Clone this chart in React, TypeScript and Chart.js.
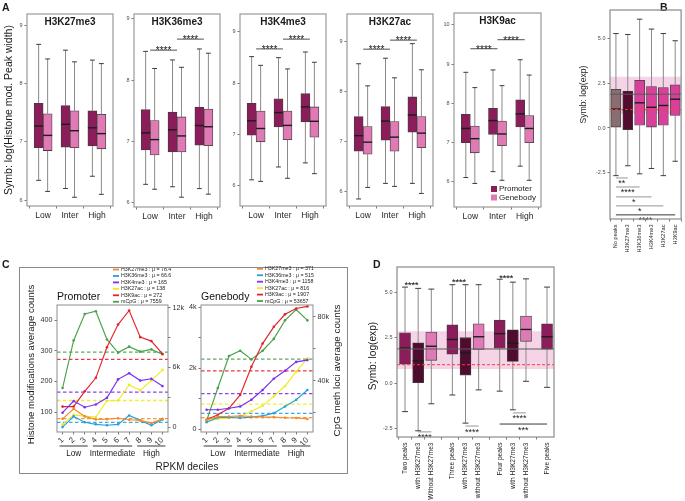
import React, { useEffect, useRef } from 'react';
import { Chart, registerables } from 'chart.js';

Chart.register(...registerables);

const W = 685;
const H = 501;
const FONT = '"Liberation Sans", Arial, Helvetica, sans-serif';
Chart.defaults.font.family = FONT;

// ================= Panel A data =================
const aGroups = ['Low', 'Inter', 'High'];
const aSeries = ['Promoter', 'Genebody'];
const aMarks = ['H3K27me3', 'H3K36me3', 'H3K4me3', 'H3K27ac', 'H3K9ac'];
// rows: Low, Inter, High ; each [lower whisker, Q1, median, Q3, upper whisker]
const h3k27me3Promoter = [[6.34, 6.90, 7.27, 7.66, 8.67], [6.20, 6.91, 7.30, 7.62, 8.57], [6.41, 6.93, 7.24, 7.53, 8.40]];
const h3k27me3Genebody = [[6.15, 6.85, 7.11, 7.48, 8.42], [6.05, 6.90, 7.19, 7.53, 8.37], [6.10, 6.88, 7.14, 7.47, 8.34]];
const h3k36me3Promoter = [[6.30, 6.86, 7.14, 7.52, 8.47], [6.26, 6.83, 7.19, 7.48, 8.33], [6.23, 6.94, 7.26, 7.56, 8.51]];
const h3k36me3Genebody = [[6.22, 6.78, 7.03, 7.34, 8.19], [6.09, 6.83, 7.09, 7.40, 8.21], [6.14, 6.93, 7.24, 7.53, 8.44]];
const h3k4me3Promoter = [[6.12, 6.99, 7.27, 7.61, 8.52], [6.37, 7.15, 7.43, 7.70, 8.50], [6.45, 7.25, 7.54, 7.80, 8.61]];
const h3k4me3Genebody = [[6.09, 6.86, 7.12, 7.46, 8.35], [6.15, 6.90, 7.18, 7.46, 8.28], [6.24, 6.95, 7.26, 7.54, 8.41]];
const h3k27acPromoter = [[5.86, 6.81, 7.12, 7.50, 8.55], [6.17, 7.03, 7.41, 7.70, 8.66], [6.17, 7.19, 7.53, 7.89, 8.95]];
const h3k27acGenebody = [[6.09, 6.75, 6.99, 7.30, 8.11], [6.11, 6.81, 7.09, 7.40, 8.27], [5.97, 6.88, 7.17, 7.50, 8.43]];
const h3k9acPromoter = [[6.11, 7.00, 7.36, 7.72, 8.79], [6.26, 7.21, 7.56, 7.87, 8.85], [6.40, 7.40, 7.73, 8.09, 9.11]];
const h3k9acGenebody = [[5.96, 6.74, 7.10, 7.42, 8.40], [6.04, 6.92, 7.22, 7.55, 8.45], [6.04, 7.00, 7.36, 7.69, 8.72]];
const aTicks = [6, 7, 8, 9];
const aTicksK9 = [6, 7, 8, 9, 10];
// [from group, to group, y value, label]
const sigH3K27me3: any[] = [];
const sigH3K36me3 = [[0, 1, 8.49, '****'], [1, 2, 8.67, '****']];
const sigH3K4me3 = [[0, 1, 8.67, '****'], [1, 2, 8.86, '****']];
const sigH3K27ac = [[0, 1, 8.84, '****'], [1, 2, 9.02, '****']];
const sigH3K9ac = [[0, 1, 9.39, '****'], [1, 2, 9.62, '****']];

// ================= Panel B data =================
const bCategories = ['No peaks', 'H3K27me3', 'H3K36me3', 'H3K4me3', 'H3K27ac', 'H3K9ac'];
const bStats = [
  [-2.65, 0.05, 1.05, 2.15, 5.25],
  [-2.10, -0.10, 1.00, 2.05, 5.20],
  [-2.55, 0.15, 1.40, 2.65, 6.05],
  [-2.25, 0.05, 1.15, 2.30, 5.50],
  [-2.65, 0.15, 1.25, 2.25, 5.25],
  [-1.85, 0.70, 1.60, 2.40, 4.85],
];
const bTicks = [-2.5, 0, 2.5, 5];
// [from, to, y value, label] (label under the line)
const sigB = [[0, 1, -2.78, '**'], [0, 2, -3.28, '****'], [0, 3, -3.83, '*'], [0, 4, -4.33, '*'], [0, 5, -4.83, '****']];
// reference band / lines of log(exp)
const refBand = [0.78, 2.85];
const refMedian = 1.88;
const refThreshold = 1.02;

// ================= Panel C data =================
const deciles = ['1', '2', '3', '4', '5', '6', '7', '8', '9', '10'];
const cSeries = ['H3K27me3', 'H3K36me3', 'H3K4me3', 'H3K27ac', 'H3K9ac', 'mCpG'];
const promH3K27me3 = [78, 111, 86, 76, 77, 80, 75, 73, 64, 78];
const promH3K36me3 = [51, 86, 67, 60, 57, 60, 89, 73, 57, 76];
const promH3K4me3 = [98, 136, 116, 125, 147, 207, 227, 203, 209, 185];
const promH3K27ac = [59, 91, 87, 84, 137, 138, 189, 171, 203, 238];
const promH3K9ac = [118, 118, 168, 212, 312, 386, 432, 345, 332, 290];
const promMCpG = [3930, 8730, 11400, 11670, 8830, 7500, 8100, 7600, 7830, 7330];
const promMeans = [78.4, 66.6, 165, 138, 272, 7559];
const geneH3K27me3 = [300, 410, 410, 430, 410, 390, 390, 370, 360, 330];
const geneH3K36me3 = [220, 380, 380, 360, 390, 430, 520, 740, 960, 1280];
const geneH3K4me3 = [630, 630, 680, 740, 960, 1280, 1650, 1910, 2200, 2260];
const geneH3K27ac = [250, 330, 360, 410, 580, 760, 1070, 1410, 1880, 2320];
const geneH3K9ac = [300, 470, 680, 1120, 2040, 2800, 3350, 3760, 3950, 4020];
const geneMCpG = [15200, 35600, 55600, 58900, 53500, 58900, 66300, 77900, 84600, 77900];
const geneMeans = [371, 515, 1158, 816, 1907, 53657];
const promLeftTicks = [100, 200, 300, 400];
const promLeftLabels = ['100', '200', '300', '400'];
const promRightTicks = [0, 3000, 6000, 9000, 12000];
const promRightLabels = ['0', '', '6k', '', '12k'];
const geneLeftTicks = [0, 1000, 2000, 3000, 4000];
const geneLeftLabels = ['0', '', '2k', '', '4k'];
const geneRightTicks = [20000, 40000, 60000, 80000];
const geneRightLabels = ['', '40k', '', '80k'];
const cGroupLabels = ['Low', 'Intermediate', 'High'];
const cGroupFirst = [0, 3, 7];
const cGroupLast = [2, 6, 9];

// ================= Panel D data =================
const dCategories = ['Two peaks', 'with H3K27me3', 'Without H3K27me3', 'Three peaks', 'with H3K27me3', 'without H3K27me3', 'Four peaks', 'with H3K27me3', 'without H3K27me3', 'Five peaks'];
const dGroup = [0, 0, 0, 1, 1, 1, 2, 2, 2, 3];
const dKind = ['all', 'with', 'without', 'all', 'with', 'without', 'all', 'with', 'without', 'all'];
const dStats = [
  [-1.55, 1.05, 1.93, 2.77, 5.27],
  [-2.60, 0.03, 1.24, 2.22, 5.20],
  [-1.12, 1.26, 2.03, 2.81, 5.16],
  [-0.64, 1.60, 2.40, 3.20, 5.40],
  [-2.18, 0.44, 1.67, 2.50, 5.40],
  [-0.36, 1.85, 2.55, 3.26, 5.40],
  [-0.43, 1.92, 2.72, 3.46, 5.70],
  [-1.45, 1.20, 2.19, 2.93, 5.54],
  [0.11, 2.30, 2.95, 3.68, 5.72],
  [-0.22, 1.87, 2.55, 3.26, 5.27],
];
const dTicks = [-2.5, 0, 2.5, 5];
// [from, to, y value, label, side]
const sigD = [
  [0, 1, 5.45, '****', 'above'],
  [3, 4, 5.60, '****', 'above'],
  [6, 7, 5.82, '****', 'above'],
  [1, 2, -2.66, '****', 'below'],
  [4, 5, -2.34, '****', 'below'],
  [7, 8, -1.62, '****', 'below'],
  [6, 9, -2.23, '***', 'below'],
];

// ================= styles / layout =================
const PROM_COL = '#8c1d5b';
const GENE_COL = '#df7ab5';
const NOPEAK_COL = '#8b6d71';
const K27_COL = '#520c30';
const OTHER_COL = '#d8409a';
const D_COL: Record<string, string> = { all: '#8c1d5b', with: '#4f0c2f', without: '#e07ab6' };
const cColors = ['#f68a2a', '#22a3dc', '#7b30f2', '#f0ea1e', '#e3232b', '#4aa24a'];

const aFrames = [
  { l: 27, t: 14, r: 113, b: 206, y: [5.9, 9.19] },
  { l: 134, t: 14, r: 220, b: 207, y: [5.93, 9.08] },
  { l: 240, t: 14, r: 326, b: 206, y: [5.61, 9.35] },
  { l: 347, t: 14, r: 433, b: 206, y: [5.72, 9.54] },
  { l: 454, t: 13, r: 541, b: 207, y: [5.36, 10.3] },
];
const bFrame = { l: 610, t: 10, r: 684, b: 219, y: [-5.06, 6.56] };
const cProm = { l: 57, t: 305, r: 168, b: 432, yl: [35, 450], yr: [-500, 12300] };
const cGene = { l: 201, t: 305, r: 313, b: 432, yl: [-98, 4066], yr: [8100, 87500] };
const dFrame = { l: 397, t: 267, r: 554, b: 437, y: [-2.94, 6.37] };
const D_GAP = 0.6;

// ================= helpers =================
function seg(ctx: any, x1: number, y1: number, x2: number, y2: number) {
  ctx.beginPath();
  ctx.moveTo(x1, y1);
  ctx.lineTo(x2, y2);
  ctx.stroke();
}
function txt(ctx: any, s: string, x: number, y: number, size: number, o: any = {}) {
  ctx.save();
  ctx.font = `${o.bold ? 'bold ' : ''}${size}px ${FONT}`;
  ctx.fillStyle = o.color || '#1a1a1a';
  ctx.textAlign = o.align || 'center';
  ctx.textBaseline = o.baseline || 'middle';
  ctx.translate(x, y);
  if (o.rotate) ctx.rotate(o.rotate);
  ctx.fillText(s, 0, 0);
  ctx.restore();
}
function frameRect(ctx: any, ca: any, color = '#9a9a9a', lw = 1.2) {
  ctx.save();
  ctx.strokeStyle = color;
  ctx.lineWidth = lw;
  ctx.strokeRect(ca.left, ca.top, ca.right - ca.left, ca.bottom - ca.top);
  ctx.restore();
}
function refLines(ctx: any, chart: any) {
  const ca = chart.chartArea;
  const ys = chart.scales.y;
  ctx.save();
  ctx.strokeStyle = '#5a5a5a';
  ctx.lineWidth = 1;
  const ym = ys.getPixelForValue(refMedian);
  seg(ctx, ca.left, ym, ca.right, ym);
  ctx.strokeStyle = '#ff3b3b';
  ctx.setLineDash([3, 2]);
  const yt = ys.getPixelForValue(refThreshold);
  seg(ctx, ca.left, yt, ca.right, yt);
  ctx.restore();
}
function refBandDraw(ctx: any, chart: any) {
  const ca = chart.chartArea;
  const ys = chart.scales.y;
  const y1 = ys.getPixelForValue(refBand[1]);
  const y0 = ys.getPixelForValue(refBand[0]);
  ctx.save();
  ctx.fillStyle = 'rgba(232, 160, 205, 0.45)';
  ctx.fillRect(ca.left, y1, ca.right - ca.left, y0 - y1);
  ctx.restore();
}

function boxConfig(spec: any) {
  const f = spec.frame;
  const yW = spec.yAxisW;
  const xH = spec.xAxisH;
  const plugin = {
    id: 'boxparts',
    beforeDatasetsDraw(chart: any) {
      const ctx = chart.ctx;
      const ys = chart.scales.y;
      if (spec.under) spec.under(ctx, chart);
      ctx.save();
      spec.series.forEach((s: any, di: number) => {
        const meta = chart.getDatasetMeta(di);
        meta.data.forEach((el: any, i: number) => {
          const st = s.stats[i];
          const x = el.x;
          const half = el.width * 0.27;
          const pLo = ys.getPixelForValue(st[0]);
          const pQ1 = ys.getPixelForValue(st[1]);
          const pQ3 = ys.getPixelForValue(st[3]);
          const pHi = ys.getPixelForValue(st[4]);
          ctx.lineWidth = 1;
          ctx.strokeStyle = '#8a8a8a';
          seg(ctx, x, pQ3, x, pHi);
          seg(ctx, x, pQ1, x, pLo);
          ctx.strokeStyle = '#3a3a3a';
          seg(ctx, x - half, pHi, x + half, pHi);
          seg(ctx, x - half, pLo, x + half, pLo);
        });
      });
      ctx.restore();
    },
    afterDatasetsDraw(chart: any) {
      const ctx = chart.ctx;
      const ys = chart.scales.y;
      ctx.save();
      spec.series.forEach((s: any, di: number) => {
        const meta = chart.getDatasetMeta(di);
        meta.data.forEach((el: any, i: number) => {
          const pm = ys.getPixelForValue(s.stats[i][2]);
          ctx.strokeStyle = '#1c1c1c';
          ctx.lineWidth = 1.4;
          seg(ctx, el.x - el.width / 2, pm, el.x + el.width / 2, pm);
        });
      });
      ctx.restore();
      if (spec.over) spec.over(ctx, chart);
      frameRect(ctx, chart.chartArea, spec.frameColor || '#9a9a9a', 1.2);
    },
  };
  return {
    type: 'bar',
    data: {
      datasets: spec.series.map((s: any) => ({
        label: s.label,
        data: s.stats.map((st: number[], i: number) => ({ x: s.xs[i], y: [st[1], st[3]] })),
        backgroundColor: s.colors,
        borderColor: '#3f3f3f',
        borderWidth: 0.8,
        borderSkipped: false,
        barThickness: spec.barThickness,
      })),
    },
    options: {
      responsive: false,
      animation: false,
      events: [],
      layout: { autoPadding: false, padding: { left: f.l - yW, top: f.t, right: W - f.r, bottom: H - f.b - xH } },
      plugins: { legend: { display: false }, tooltip: { enabled: false } },
      scales: {
        x: {
          type: 'linear',
          min: spec.xRange[0],
          max: spec.xRange[1],
          offset: false,
          afterFit: (s: any) => { s.height = xH; },
          afterBuildTicks: (s: any) => { s.ticks = spec.xTickValues.map((v: number) => ({ value: v })); },
          ticks: {
            autoSkip: false,
            minRotation: spec.xRotate,
            maxRotation: spec.xRotate,
            padding: spec.xPad ?? 2,
            color: '#1f1f1f',
            font: { family: FONT, size: spec.xFontSize },
            callback: (_v: any, i: number) => spec.xTickLabels[i],
          },
          grid: { drawOnChartArea: false, drawTicks: true, tickLength: 2.5, color: '#555', lineWidth: 0.8 },
          border: { display: false },
        },
        y: {
          type: 'linear',
          min: spec.yRange[0],
          max: spec.yRange[1],
          afterFit: (s: any) => { s.width = yW; },
          afterBuildTicks: (s: any) => { s.ticks = spec.yTicks.map((v: number) => ({ value: v })); },
          ticks: {
            autoSkip: false,
            padding: 2,
            color: '#4d4d4d',
            font: { family: FONT, size: spec.yFontSize },
            callback: (v: any) => spec.yFmt(v),
          },
          grid: { drawOnChartArea: false, drawTicks: true, tickLength: 2.5, color: '#555', lineWidth: 0.8 },
          border: { display: false },
        },
      },
    },
    plugins: [plugin],
  };
}

function lineConfig(spec: any) {
  const f = spec.frame;
  const yW = 22;
  const xH = 14;
  const plugin = {
    id: 'lineparts',
    beforeDatasetsDraw(chart: any) {
      const ctx = chart.ctx;
      const ca = chart.chartArea;
      ctx.save();
      ctx.lineWidth = 1.3;
      ctx.setLineDash([3.5, 2.5]);
      spec.means.forEach((m: number, k: number) => {
        const sc = k === 5 ? chart.scales.y2 : chart.scales.y;
        const y = sc.getPixelForValue(m);
        ctx.strokeStyle = cColors[k];
        ctx.globalAlpha = 0.9;
        seg(ctx, ca.left, y, ca.right, y);
      });
      ctx.restore();
    },
    afterDatasetsDraw(chart: any) {
      const ctx = chart.ctx;
      const ca = chart.chartArea;
      const xs = chart.scales.x;
      frameRect(ctx, ca, '#8d8d8d', 1);
      txt(ctx, spec.title, ca.left, ca.top - 8, 10.5, { align: 'left', color: '#111' });
      spec.means.forEach((m: number, k: number) => {
        const y = spec.legendY + k * 6.45;
        ctx.save();
        ctx.strokeStyle = cColors[k];
        ctx.lineWidth = 1.8;
        seg(ctx, spec.legendX, y, spec.legendX + 6, y);
        ctx.restore();
        txt(ctx, `${cSeries[k]} : \u03bc = ${m}`, spec.legendX + 8, y, 5.3, { align: 'left', color: '#222' });
      });
      cGroupLabels.forEach((g, k) => {
        const x1 = xs.getPixelForValue(cGroupFirst[k]) - 3;
        const x2 = xs.getPixelForValue(cGroupLast[k]) + 3;
        const y = ca.bottom + 14;
        ctx.save();
        ctx.strokeStyle = '#9b9b9b';
        ctx.lineWidth = 2;
        seg(ctx, x1, y, x2, y);
        ctx.restore();
        txt(ctx, g, (x1 + x2) / 2, ca.bottom + 22, 8.2, { color: '#1a1a1a' });
      });
      if (spec.over) spec.over(ctx, chart);
    },
  };
  const axisCommon = {
    grid: { drawOnChartArea: false, drawTicks: true, tickLength: 2.5, color: '#555', lineWidth: 0.8 },
    border: { display: false },
  };
  return {
    type: 'line',
    data: {
      labels: deciles,
      datasets: spec.values.map((vals: number[], k: number) => ({
        label: cSeries[k],
        data: vals,
        yAxisID: k === 5 ? 'y2' : 'y',
        borderColor: cColors[k],
        backgroundColor: cColors[k],
        borderWidth: 1.15,
        pointRadius: 1.3,
        pointBorderWidth: 0,
        tension: 0,
      })),
    },
    options: {
      responsive: false,
      animation: false,
      events: [],
      layout: { autoPadding: false, padding: { left: f.l - yW, top: f.t, right: W - f.r - yW, bottom: H - f.b - xH } },
      plugins: { legend: { display: false }, tooltip: { enabled: false } },
      scales: {
        x: {
          type: 'category',
          offset: true,
          afterFit: (s: any) => { s.height = xH; },
          ticks: { autoSkip: false, minRotation: 45, maxRotation: 45, padding: 1, color: '#333', font: { family: FONT, size: 8 } },
          ...axisCommon,
        },
        y: {
          type: 'linear',
          position: 'left',
          min: spec.yl[0],
          max: spec.yl[1],
          afterFit: (s: any) => { s.width = yW; },
          afterBuildTicks: (s: any) => { s.ticks = spec.leftTicks.map((v: number) => ({ value: v })); },
          ticks: { autoSkip: false, padding: 2, color: '#333', font: { family: FONT, size: 7.2 }, callback: (_v: any, i: number) => spec.leftLabels[i] },
          ...axisCommon,
        },
        y2: {
          type: 'linear',
          position: 'right',
          min: spec.yr[0],
          max: spec.yr[1],
          afterFit: (s: any) => { s.width = yW; },
          afterBuildTicks: (s: any) => { s.ticks = spec.rightTicks.map((v: number) => ({ value: v })); },
          ticks: { autoSkip: false, padding: 2, color: '#333', font: { family: FONT, size: 7.2 }, callback: (_v: any, i: number) => spec.rightLabels[i] },
          ...axisCommon,
        },
      },
    },
    plugins: [plugin],
  };
}

function buildConfigs() {
  const aSpecs = [
    { p: h3k27me3Promoter, g: h3k27me3Genebody, ticks: aTicks, sig: sigH3K27me3 },
    { p: h3k36me3Promoter, g: h3k36me3Genebody, ticks: aTicks, sig: sigH3K36me3 },
    { p: h3k4me3Promoter, g: h3k4me3Genebody, ticks: aTicks, sig: sigH3K4me3 },
    { p: h3k27acPromoter, g: h3k27acGenebody, ticks: aTicks, sig: sigH3K27ac },
    { p: h3k9acPromoter, g: h3k9acGenebody, ticks: aTicksK9, sig: sigH3K9ac },
  ];
  const configs: any[] = [];
  const groupXs = aGroups.map((_g, i) => i + 1);
  aSpecs.forEach((a, k) => {
    const f = aFrames[k];
    configs.push(boxConfig({
      frame: f,
      yAxisW: 14,
      xAxisH: 20,
      xRange: [0.4, 3.6],
      yRange: f.y,
      yTicks: a.ticks,
      yFmt: (v: number) => String(v),
      xTickValues: groupXs,
      xTickLabels: aGroups,
      xRotate: 0,
      xFontSize: 8.5,
      yFontSize: 5.5,
      barThickness: 9,
      series: [
        { label: aSeries[0], stats: a.p, xs: groupXs, colors: PROM_COL },
        { label: aSeries[1], stats: a.g, xs: groupXs, colors: GENE_COL },
      ],
      over: (ctx: any, chart: any) => {
        const ca = chart.chartArea;
        const xs = chart.scales.x;
        const ys = chart.scales.y;
        txt(ctx, aMarks[k], (ca.left + ca.right) / 2, ca.top + 11, 10, { bold: true, baseline: 'alphabetic' });
        a.sig.forEach((sg: any) => {
          const x1 = xs.getPixelForValue(groupXs[sg[0]]);
          const x2 = xs.getPixelForValue(groupXs[sg[1]]);
          const y = ys.getPixelForValue(sg[2]);
          ctx.save();
          ctx.strokeStyle = '#222';
          ctx.lineWidth = 0.8;
          seg(ctx, x1, y, x2, y);
          ctx.restore();
          txt(ctx, sg[3], (x1 + x2) / 2, y + 4, 10, { baseline: 'alphabetic' });
        });
        if (k === 0) {
          txt(ctx, 'A', 2, 8, 10.5, { bold: true, align: 'left' });
          txt(ctx, 'Symb: log(Histone mod. Peak width)', 9, (ca.top + ca.bottom) / 2, 10.5, { rotate: -Math.PI / 2 });
        }
        if (k === 4) {
          const cols = [PROM_COL, GENE_COL];
          aSeries.forEach((s, j) => {
            const y = ca.bottom - 18 + j * 8.5;
            ctx.save();
            ctx.fillStyle = cols[j];
            ctx.fillRect(ca.right - 50, y - 3, 6, 6);
            ctx.restore();
            txt(ctx, s, ca.right - 42, y, 8, { align: 'left' });
          });
        }
      },
    }));
  });

  // Panel B
  const bXs = bCategories.map((_c, i) => i);
  const bCols = bCategories.map((_c, i) => (i === 0 ? NOPEAK_COL : i === 1 ? K27_COL : OTHER_COL));
  configs.push(boxConfig({
    frame: bFrame,
    yAxisW: 20,
    xAxisH: 40,
    xRange: [-0.5, bCategories.length - 0.5],
    yRange: bFrame.y,
    yTicks: bTicks,
    yFmt: (v: number) => v.toFixed(1),
    xTickValues: bXs,
    xTickLabels: bCategories,
    xRotate: 90,
    xFontSize: 5.6,
    xPad: 3,
    yFontSize: 5.5,
    barThickness: 10,
    frameColor: '#8a8a8a',
    series: [{ label: 'B', stats: bStats, xs: bXs, colors: bCols }],
    under: (ctx: any, chart: any) => refBandDraw(ctx, chart),
    over: (ctx: any, chart: any) => {
      const ca = chart.chartArea;
      const xs = chart.scales.x;
      const ys = chart.scales.y;
      refLines(ctx, chart);
      sigB.forEach((sg: any, j: number) => {
        const x1 = xs.getPixelForValue(bXs[sg[0]]);
        const x2 = xs.getPixelForValue(bXs[sg[1]]);
        const y = ys.getPixelForValue(sg[2]);
        ctx.save();
        ctx.strokeStyle = j === sigB.length - 1 ? '#222' : '#8a8a8a';
        ctx.lineWidth = 0.9;
        seg(ctx, x1, y, x2, y);
        ctx.restore();
        txt(ctx, sg[3], (x1 + x2) / 2, y + 8.5, 9, { baseline: 'alphabetic' });
      });
      txt(ctx, 'B', 660, 8, 10.5, { bold: true, align: 'left' });
      txt(ctx, 'Symb: log(exp)', 584, (ca.top + ca.bottom) / 2 - 20, 8.6, { rotate: -Math.PI / 2 });
    },
  }));

  // Panel C
  configs.push(lineConfig({
    frame: cProm,
    yl: cProm.yl,
    yr: cProm.yr,
    values: [promH3K27me3, promH3K36me3, promH3K4me3, promH3K27ac, promH3K9ac, promMCpG],
    means: promMeans,
    leftTicks: promLeftTicks,
    leftLabels: promLeftLabels,
    rightTicks: promRightTicks,
    rightLabels: promRightLabels,
    title: 'Promoter',
    legendX: 113,
    legendY: 269.5,
    over: (ctx: any, chart: any) => {
      const ca = chart.chartArea;
      ctx.save();
      ctx.strokeStyle = '#8a8a8a';
      ctx.lineWidth = 1;
      ctx.strokeRect(19.5, 267.5, 328, 206);
      ctx.restore();
      txt(ctx, 'C', 2, 265, 10.5, { bold: true, align: 'left' });
      txt(ctx, 'Histone modifications average counts', 31, (ca.top + ca.bottom) / 2 - 4, 9.6, { rotate: -Math.PI / 2 });
      txt(ctx, 'RPKM deciles', 187, 467, 10, {});
    },
  }));
  configs.push(lineConfig({
    frame: cGene,
    yl: cGene.yl,
    yr: cGene.yr,
    values: [geneH3K27me3, geneH3K36me3, geneH3K4me3, geneH3K27ac, geneH3K9ac, geneMCpG],
    means: geneMeans,
    leftTicks: geneLeftTicks,
    leftLabels: geneLeftLabels,
    rightTicks: geneRightTicks,
    rightLabels: geneRightLabels,
    title: 'Genebody',
    legendX: 257,
    legendY: 268.8,
    over: (ctx: any, chart: any) => {
      const ca = chart.chartArea;
      txt(ctx, 'CpG meth loci average counts', 337, (ca.top + ca.bottom) / 2 + 2, 9.8, { rotate: -Math.PI / 2 });
    },
  }));

  // Panel D
  const dXs = dGroup.map((g, i) => i + g * D_GAP);
  const dCols = dKind.map((kd) => D_COL[kd]);
  configs.push(boxConfig({
    frame: dFrame,
    yAxisW: 22,
    xAxisH: 64,
    xRange: [-0.61, 11.33],
    yRange: dFrame.y,
    yTicks: dTicks,
    yFmt: (v: number) => v.toFixed(1),
    xTickValues: dXs,
    xTickLabels: dCategories,
    xRotate: 90,
    xFontSize: 6.6,
    xPad: 3,
    yFontSize: 5.5,
    barThickness: 11,
    frameColor: '#8a8a8a',
    series: [{ label: 'D', stats: dStats, xs: dXs, colors: dCols }],
    under: (ctx: any, chart: any) => refBandDraw(ctx, chart),
    over: (ctx: any, chart: any) => {
      const ca = chart.chartArea;
      const xs = chart.scales.x;
      const ys = chart.scales.y;
      refLines(ctx, chart);
      sigD.forEach((sg: any) => {
        const x1 = xs.getPixelForValue(dXs[sg[0]]);
        const x2 = xs.getPixelForValue(dXs[sg[1]]);
        const y = ys.getPixelForValue(sg[2]);
        const long = sg[1] - sg[0] > 1;
        ctx.save();
        ctx.strokeStyle = long ? '#222' : '#8a8a8a';
        ctx.lineWidth = 0.9;
        seg(ctx, x1, y, x2, y);
        ctx.restore();
        const ty = sg[4] === 'above' ? y + 4 : y + 8.5;
        txt(ctx, sg[3], (x1 + x2) / 2, ty, 9, { baseline: 'alphabetic' });
      });
      txt(ctx, 'D', 373, 265, 10.5, { bold: true, align: 'left' });
      txt(ctx, 'Symb: log(exp)', 373, (ca.top + ca.bottom) / 2 + 4, 10.2, { rotate: -Math.PI / 2 });
    },
  }));
  return configs;
}

const N_CHARTS = 9;

export default function App() {
  const refs = useRef<(HTMLCanvasElement | null)[]>([]);
  useEffect(() => {
    const configs = buildConfigs();
    const charts = configs.map((cfg, i) => new Chart(refs.current[i] as HTMLCanvasElement, cfg));
    return () => {
      charts.forEach((c) => c.destroy());
    };
  }, []);
  return (
    <div style={{ position: 'absolute', left: 0, top: 0, width: W, height: H, background: '#ffffff', overflow: 'hidden' }}>
      {Array.from({ length: N_CHARTS }, (_v, i) => (
        <canvas
          key={i}
          ref={(el) => { refs.current[i] = el; }}
          width={W}
          height={H}
          style={{ position: 'absolute', left: 0, top: 0, width: W, height: H }}
        />
      ))}
    </div>
  );
}
